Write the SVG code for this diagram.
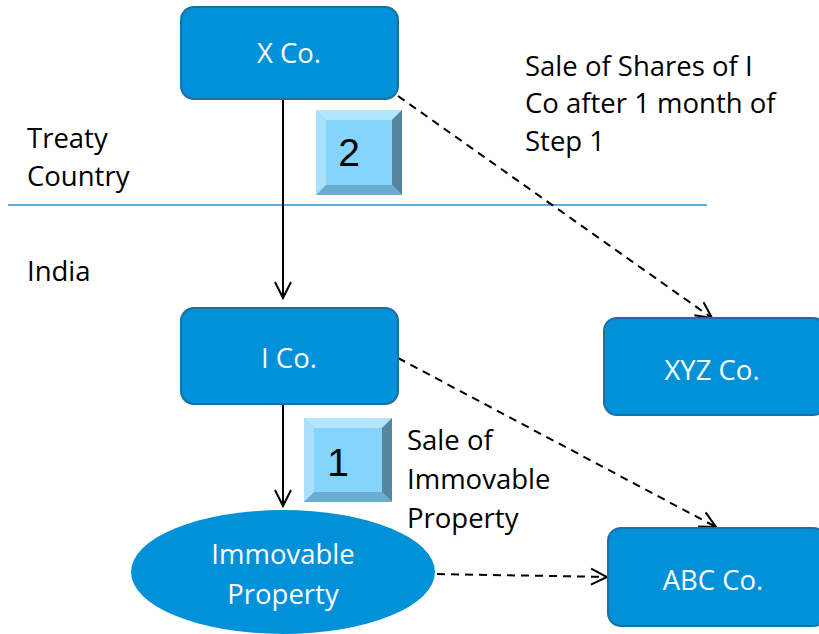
<svg xmlns="http://www.w3.org/2000/svg" width="819" height="634" viewBox="0 0 819 634">
  <defs>
    <marker id="arrow" viewBox="0 0 20 20" refX="18" refY="10" markerWidth="20" markerHeight="20" markerUnits="userSpaceOnUse" orient="auto">
      <path d="M2,2 L18,10 L2,18" fill="none" stroke="#000" stroke-width="2"/>
    </marker>
    <style>
      .box { fill: #0091d9; stroke: #1b6fa3; stroke-width: 2; }
      .lbl { font-family: "Open Sans", "Noto Sans", sans-serif; font-size: 27.5px; fill: #fff; text-anchor: middle; }
      .txt { font-family: "Open Sans", "Noto Sans", sans-serif; font-size: 27.5px; fill: #000; }
      .num { font-family: "Liberation Sans", Arial, sans-serif; font-size: 39px; fill: #000; text-anchor: middle; }
      .solid { fill: none; stroke: #000; stroke-width: 2; marker-end: url(#arrow); }
      .dash { fill: none; stroke: #000; stroke-width: 2; stroke-dasharray: 8 6; marker-end: url(#arrow); }
    </style>
  </defs>

  <!-- border between treaty country and India -->
  <line x1="8" y1="205" x2="707" y2="205" stroke="#2a8fd0" stroke-width="1.5"/>

  <g id="connectors">
    <line class="solid" x1="283" y1="100" x2="283" y2="298"/>
    <line class="solid" x1="283" y1="405" x2="283" y2="506"/>
    <line class="dash" x1="398" y1="96" x2="712" y2="318"/>
    <line class="dash" x1="398" y1="358" x2="716" y2="527"/>
    <line class="dash" x1="437" y1="574" x2="607" y2="577"/>
  </g>

  <g id="x-co">
    <rect class="box" x="181" y="7" width="217" height="92" rx="13"/>
    <text class="lbl" x="289" y="63">X Co.</text>
  </g>

  <g id="i-co">
    <rect class="box" x="181" y="308" width="217" height="96" rx="13"/>
    <text class="lbl" x="289" y="368">I Co.</text>
  </g>

  <g id="xyz-co">
    <rect class="box" x="604" y="318" width="222" height="97" rx="13"/>
    <text class="lbl" x="712" y="380">XYZ Co.</text>
  </g>

  <g id="abc-co">
    <rect class="box" x="608" y="528" width="218" height="98" rx="13"/>
    <text class="lbl" x="713" y="590">ABC Co.</text>
  </g>

  <g id="immovable-property">
    <ellipse cx="283" cy="572" rx="152" ry="62" fill="#0091d9"/>
    <text class="lbl" x="283" y="564">Immovable</text>
    <text class="lbl" x="283" y="604">Property</text>
  </g>

  <!-- step badge 2 -->
  <g id="step-2">
    <rect x="316" y="110" width="86" height="85" fill="#85d4fb"/>
    <polygon points="316,110 402,110 392,120 326,120" fill="#b3e5fd"/>
    <polygon points="316,110 326,120 326,185 316,195" fill="#abe0fa"/>
    <polygon points="402,110 402,195 392,185 392,120" fill="#56869e"/>
    <polygon points="316,195 326,185 392,185 402,195" fill="#6aadd0"/>
    <text class="num" x="349" y="166">2</text>
  </g>

  <!-- step badge 1 -->
  <g id="step-1">
    <rect x="304" y="418" width="88" height="84" fill="#85d4fb"/>
    <polygon points="304,418 392,418 382,428 314,428" fill="#b3e5fd"/>
    <polygon points="304,418 314,428 314,492 304,502" fill="#abe0fa"/>
    <polygon points="392,418 392,502 382,492 382,428" fill="#56869e"/>
    <polygon points="304,502 314,492 382,492 392,502" fill="#6aadd0"/>
    <text class="num" x="338" y="476">1</text>
  </g>

  <g id="labels">
    <text class="txt" x="525" y="76">Sale of Shares of I</text>
    <text class="txt" x="525" y="113">Co after 1 month of</text>
    <text class="txt" x="525" y="151">Step 1</text>
    <text class="txt" x="27" y="148">Treaty</text>
    <text class="txt" x="27" y="186">Country</text>
    <text class="txt" x="27" y="281">India</text>
    <text class="txt" x="407" y="450">Sale of</text>
    <text class="txt" x="407" y="489">Immovable</text>
    <text class="txt" x="407" y="528">Property</text>
  </g>
</svg>
